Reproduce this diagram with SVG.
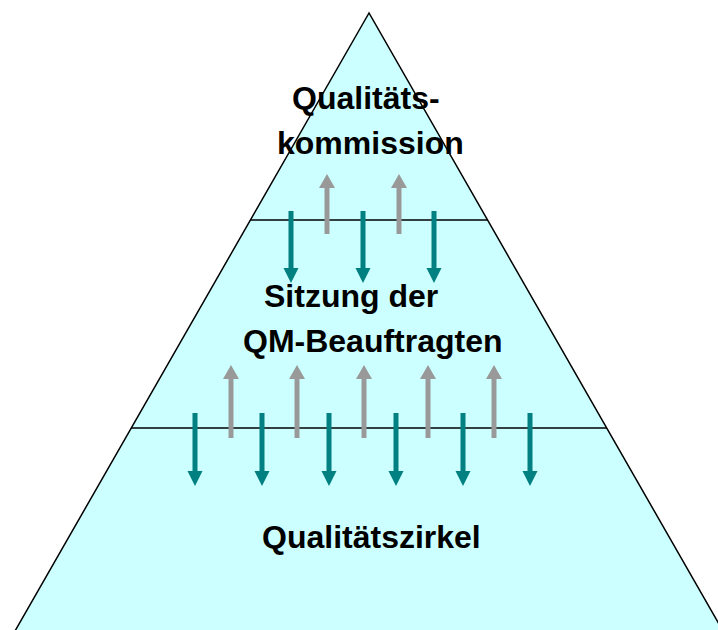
<svg xmlns="http://www.w3.org/2000/svg" width="718" height="630" viewBox="0 0 718 630">
<style>
.lbl{font-family:"Liberation Sans",Arial,sans-serif;font-weight:bold;font-size:32px;fill:#000}
.div{stroke:#000;stroke-width:1.5;fill:none}
.dn{fill:#008080}
.up{fill:#999999}
</style>
<rect width="718" height="630" fill="#fff"/>
<g id="pyramid">
<polygon points="369,13 15,631 723,631" fill="#CCFFFF" stroke="#000" stroke-width="1.5" stroke-linejoin="miter"/>
<line class="div" x1="250" y1="220" x2="488" y2="220"/>
<line class="div" x1="131" y1="428" x2="607" y2="428"/>
</g>
<g id="qualitaetskommission">
<text class="lbl" x="292" y="109">Qualitäts-</text>
<text class="lbl" x="277" y="154">kommission</text>
</g>
<g id="qm-beauftragte">
<text class="lbl" x="264" y="307">Sitzung der</text>
<text class="lbl" x="243" y="352">QM-Beauftragten</text>
</g>
<g id="qualitaetszirkel">
<text class="lbl" x="262" y="548">Qualitätszirkel</text>
</g>
<g id="connectors">
<polygon class="dn" points="288.5,211 293.5,211 293.5,268 298.5,268 291,283 283.5,268 288.5,268"/>
<polygon class="dn" points="360.5,211 365.5,211 365.5,268 370.5,268 363,283 355.5,268 360.5,268"/>
<polygon class="dn" points="431.5,211 436.5,211 436.5,268 441.5,268 434,283 426.5,268 431.5,268"/>
<polygon class="up" points="324.5,234 329.5,234 329.5,188 335,188 327,174 319,188 324.5,188"/>
<polygon class="up" points="396.5,234 401.5,234 401.5,188 407,188 399,174 391,188 396.5,188"/>
<polygon class="dn" points="192.5,413 197.5,413 197.5,471 202.5,471 195,486 187.5,471 192.5,471"/>
<polygon class="dn" points="259.5,413 264.5,413 264.5,471 269.5,471 262,486 254.5,471 259.5,471"/>
<polygon class="dn" points="326.5,413 331.5,413 331.5,471 336.5,471 329,486 321.5,471 326.5,471"/>
<polygon class="dn" points="393.5,413 398.5,413 398.5,471 403.5,471 396,486 388.5,471 393.5,471"/>
<polygon class="dn" points="460.5,413 465.5,413 465.5,471 470.5,471 463,486 455.5,471 460.5,471"/>
<polygon class="dn" points="527.5,413 532.5,413 532.5,471 537.5,471 530,486 522.5,471 527.5,471"/>
<polygon class="up" points="228.5,438 233.5,438 233.5,379 239,379 231,365 223,379 228.5,379"/>
<polygon class="up" points="294.5,438 299.5,438 299.5,379 305,379 297,365 289,379 294.5,379"/>
<polygon class="up" points="361.5,438 366.5,438 366.5,379 372,379 364,365 356,379 361.5,379"/>
<polygon class="up" points="425.5,438 430.5,438 430.5,379 436,379 428,365 420,379 425.5,379"/>
<polygon class="up" points="491.5,438 496.5,438 496.5,379 502,379 494,365 486,379 491.5,379"/>
</g>
</svg>
